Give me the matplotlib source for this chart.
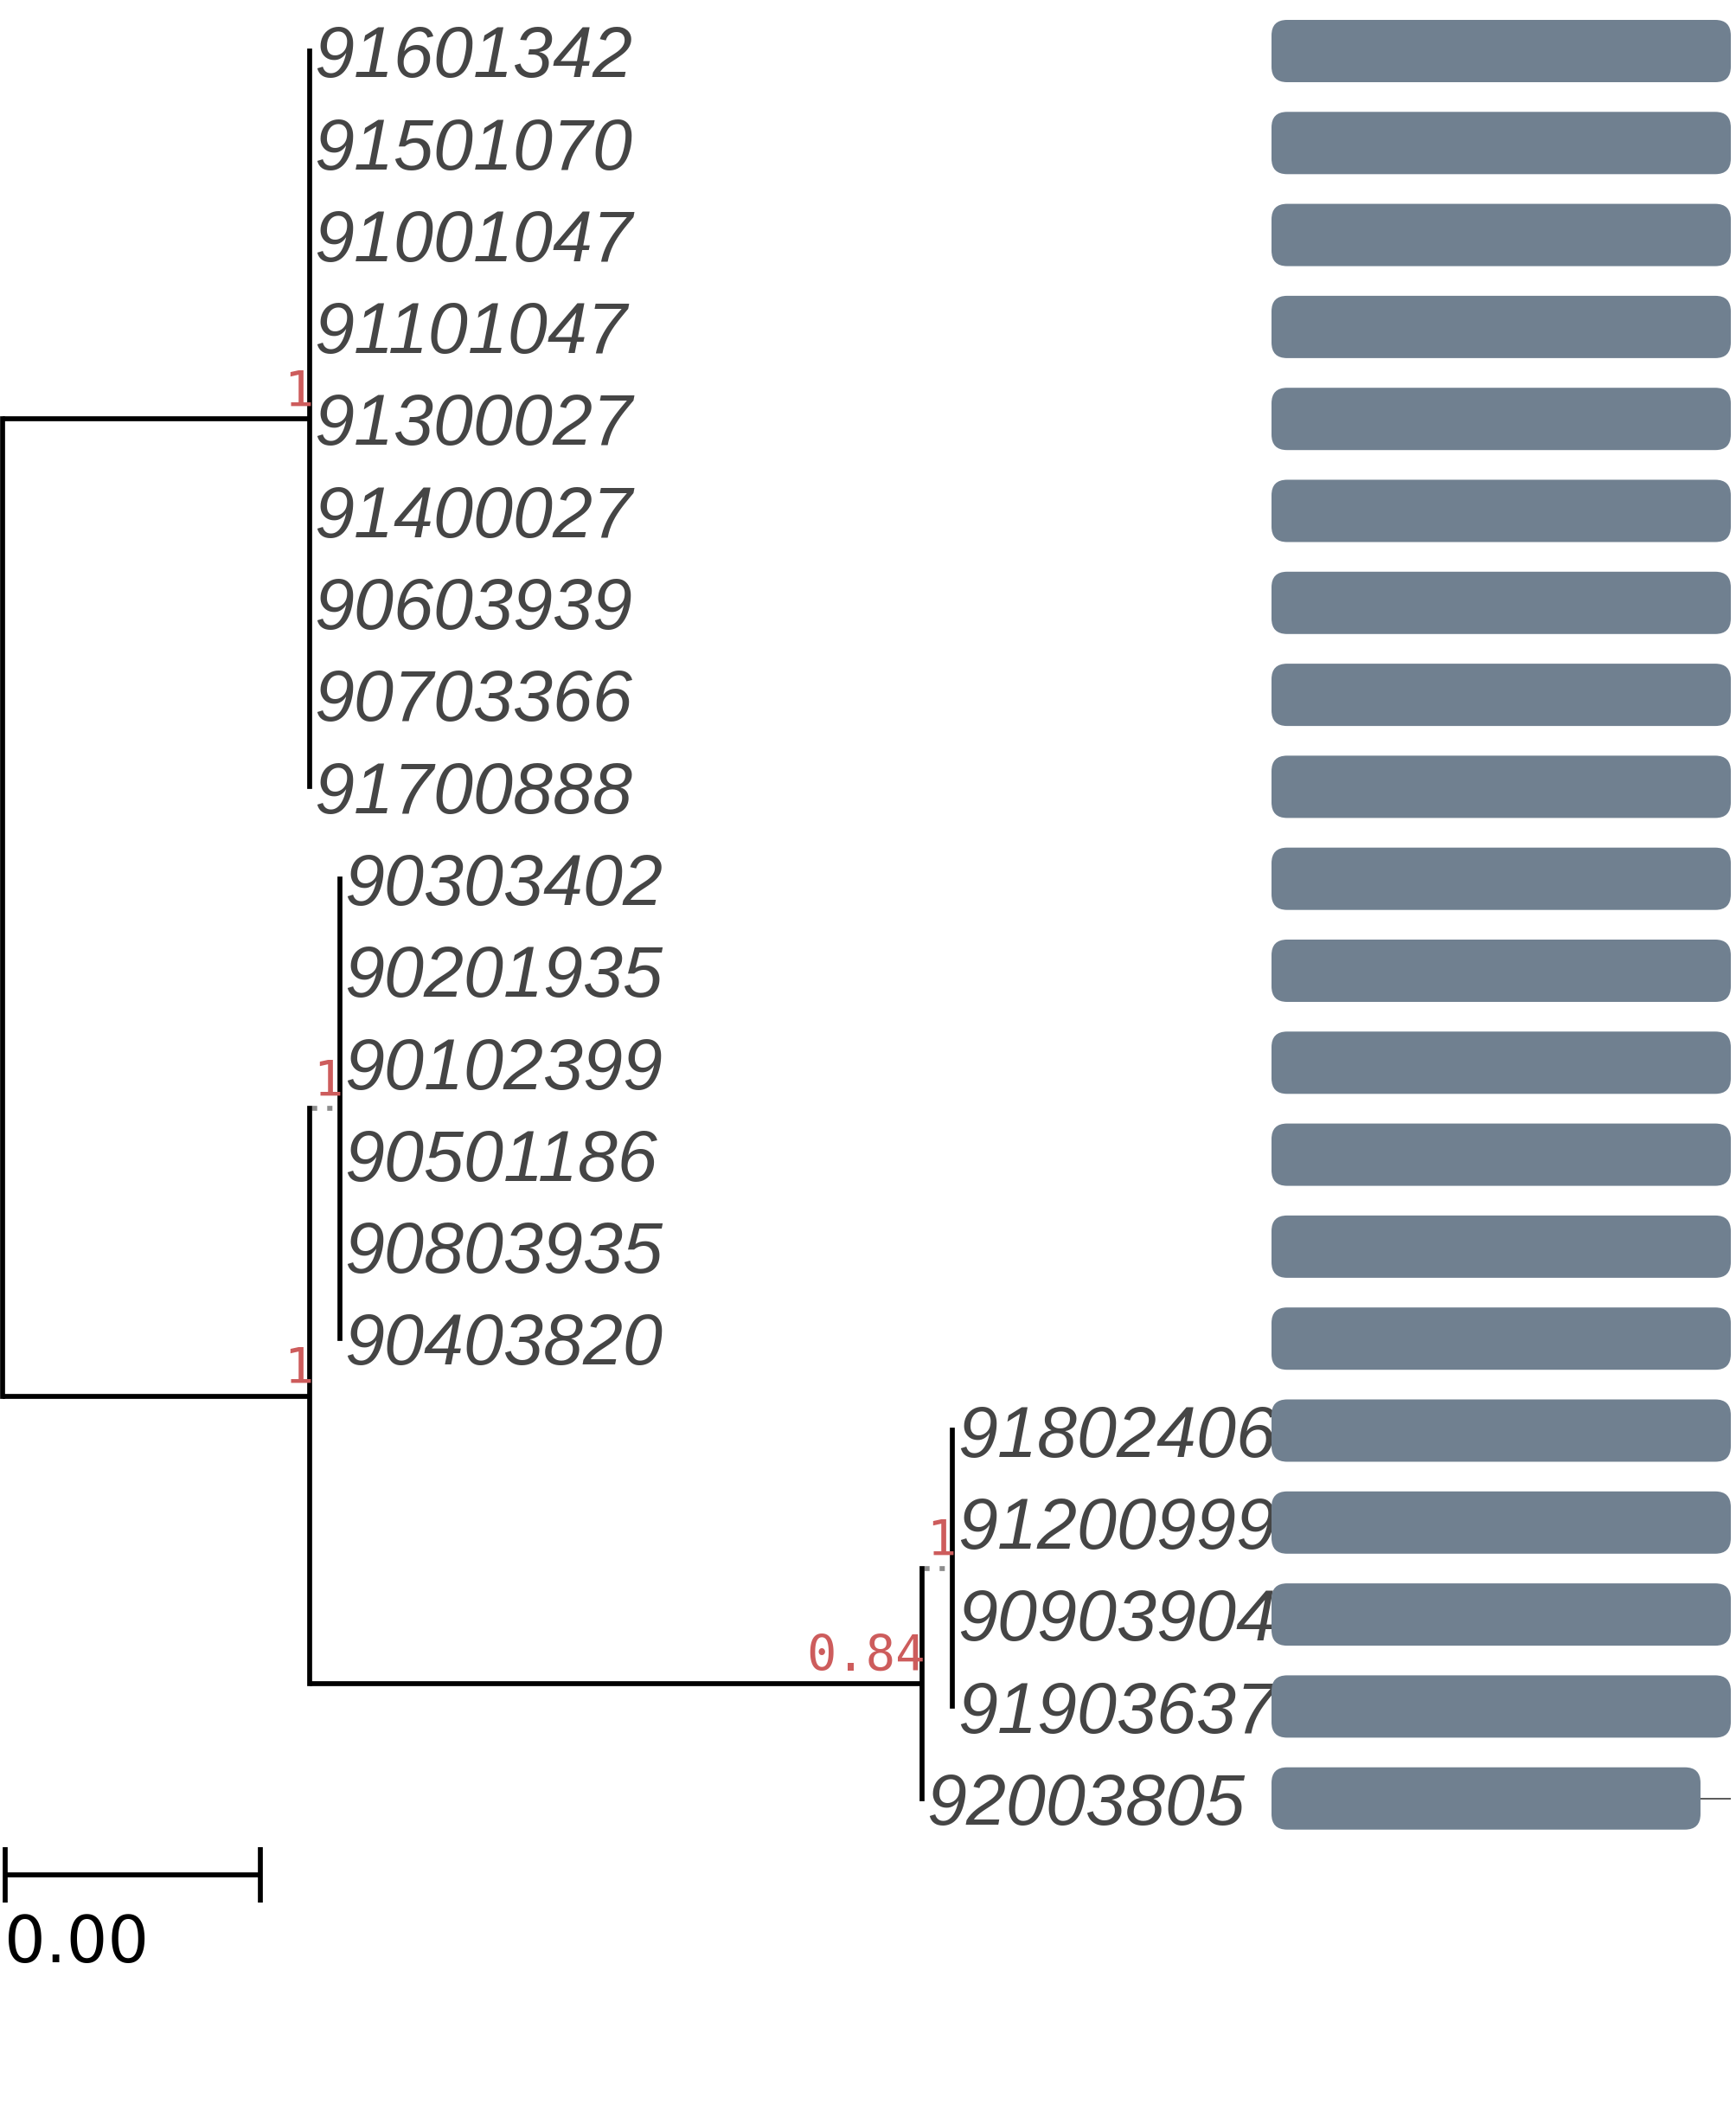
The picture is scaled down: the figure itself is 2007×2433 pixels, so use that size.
import matplotlib
matplotlib.use("Agg")
import matplotlib.pyplot as plt
from matplotlib.patches import FancyBboxPatch
import matplotlib.transforms as mtrans
import numpy as np

# ---------------- data ----------------
tip_labels = ["91601342", "91501070", "91001047", "91101047", "91300027",
              "91400027", "90603939", "90703366", "91700888", "90303402",
              "90201935", "90102399", "90501186", "90803935", "90403820",
              "91802406", "91200999", "90903904", "91903637", "92003805"]
tip_parent = ["A"] * 9 + ["B1"] * 6 + ["B2a"] * 4 + ["B2"]
tip_branch = [0.0] * 20

node_names = ["root", "A", "B", "B1", "B2", "B2a"]
node_parent = [None, "root", "root", "B", "B", "B2"]
node_branch = [0.0, 0.002407, 0.002407, 0.000235, 0.004797, 0.000241]
node_support = ["", "1", "1", "1", "0.84", "1"]
dotted_nodes = ["B1", "B2a"]

bar_values = [1.0] * 19 + [0.934]
bar_whisker = [np.nan] * 19 + [1.0]

scale_length = 0.002

# ---------------- layout ----------------
W, H, DPI = 2007, 2433, 100
PX_PER_UNIT = 147500.0
ROOT_PX = 3.0
ROW0_PX = 59.0
ROW_PX = 106.3
PT = 72.0 / DPI  # points per pixel

fig = plt.figure(figsize=(W / DPI, H / DPI), dpi=DPI)
ax = fig.add_axes([0, 0, 1, 1])
ax.set_xlim(-ROOT_PX / PX_PER_UNIT, (W - ROOT_PX) / PX_PER_UNIT)
ax.set_ylim((H - ROW0_PX) / ROW_PX, -ROW0_PX / ROW_PX)
ax.axis("off")

# node x positions
node_x = {}
def get_x(name):
    if name in node_x:
        return node_x[name]
    i = node_names.index(name)
    p = node_parent[i]
    x = node_branch[i] + (get_x(p) if p is not None else 0.0)
    node_x[name] = x
    return x
for n in node_names:
    get_x(n)

tip_x = [node_x[p] + b for p, b in zip(tip_parent, tip_branch)]
tip_y = list(range(len(tip_labels)))

children = {n: [] for n in node_names}
for i, n in enumerate(node_names):
    if node_parent[i] is not None:
        children[node_parent[i]].append(("node", n))
for i, p in enumerate(tip_parent):
    children[p].append(("tip", i))

node_y = {}
def get_y(name):
    if name in node_y:
        return node_y[name]
    ys = []
    for kind, c in children[name]:
        ys.append(tip_y[c] if kind == "tip" else get_y(c))
    node_y[name] = float(np.mean(ys))
    return node_y[name]
for n in node_names:
    get_y(n)

LW_PX = 5.7
LW = LW_PX * PT
# dotted pattern: 6px dash, 11.6px gap, first dash 2.7px after start
on_u, off_u = 6.0 / LW_PX, 11.6 / LW_PX
dot_offset = (6.0 + 11.6 - 2.7) / LW_PX

for i, n in enumerate(node_names):
    p = node_parent[i]
    if p is None:
        continue
    if n in dotted_nodes:
        ax.plot([node_x[p], node_x[n]], [node_y[n], node_y[n]], color="#8c8c8c",
                lw=LW, linestyle=(dot_offset, (on_u, off_u)),
                dash_capstyle="butt", zorder=2)
    else:
        ax.plot([node_x[p], node_x[n]], [node_y[n], node_y[n]], color="black",
                lw=LW, solid_capstyle="butt", zorder=2)
for i in range(len(tip_labels)):
    p = tip_parent[i]
    if tip_x[i] > node_x[p]:
        ax.plot([node_x[p], tip_x[i]], [tip_y[i], tip_y[i]], color="black",
                lw=LW, solid_capstyle="butt", zorder=2)
for n in node_names:
    ys = [tip_y[c] if k == "tip" else node_y[c] for k, c in children[n]]
    ax.plot([node_x[n], node_x[n]], [min(ys), max(ys)], color="black",
            lw=LW, solid_capstyle="projecting", zorder=3)

# tip labels
lab_tr = mtrans.offset_copy(ax.transData, fig=fig, x=4.0, y=-21.8, units="points")
for i, lab in enumerate(tip_labels):
    ax.text(tip_x[i], tip_y[i], lab, transform=lab_tr, ha="left", va="baseline",
            fontsize=59.5, fontstyle="italic", family="Liberation Sans",
            color="#454545", zorder=5)

# support labels
sup_tr = mtrans.offset_copy(ax.transData, fig=fig, x=3.0, y=10.8, units="points")
for i, n in enumerate(node_names):
    if node_support[i]:
        ax.text(node_x[n], node_y[n], node_support[i], transform=sup_tr,
                ha="right", va="baseline", fontsize=41, family="DejaVu Sans Mono",
                color="#cd5c5c", zorder=6)

# scale bar
sb_y = (2167 - ROW0_PX) / ROW_PX
sb_x0 = 2.5 / PX_PER_UNIT
tick_h = 32 / ROW_PX
ax.plot([sb_x0, sb_x0 + scale_length], [sb_y, sb_y], color="black", lw=LW,
        solid_capstyle="butt")
for xx in (sb_x0, sb_x0 + scale_length):
    ax.plot([xx, xx], [sb_y - tick_h, sb_y + tick_h], color="black", lw=LW,
            solid_capstyle="butt")
ax.text(sb_x0, (2268 - ROW0_PX) / ROW_PX, f"{scale_length:.2f}", ha="left",
        va="baseline", fontsize=54, family="DejaVu Sans", color="black")

# bars
BAR_L, BAR_R = 1470, 2001
bax = fig.add_axes([BAR_L / W, 0, (BAR_R - BAR_L) / W, 1])
bax.set_xlim(0, 1)
bax.set_ylim(ax.get_ylim())
bax.axis("off")
bar_h = 72 / ROW_PX
rad_px = 18
r_x = rad_px / (BAR_R - BAR_L)
aspect = (BAR_R - BAR_L) / ROW_PX
for i, v in enumerate(bar_values):
    patch = FancyBboxPatch((0, tip_y[i] - bar_h / 2), v, bar_h,
                           boxstyle=f"round,pad=0,rounding_size={r_x}",
                           mutation_aspect=aspect, facecolor="#708090",
                           edgecolor="none", zorder=2)
    bax.add_patch(patch)
    if not np.isnan(bar_whisker[i]):
        bax.plot([v, bar_whisker[i]], [tip_y[i], tip_y[i]], color="#2b2b2b",
                 lw=1.1, zorder=1)

fig.savefig("out.png", dpi=DPI)
